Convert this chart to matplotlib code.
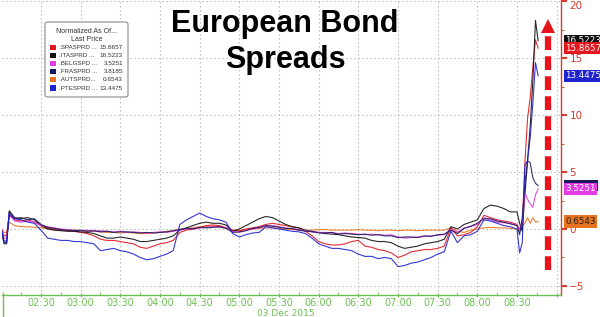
import matplotlib
matplotlib.use("Agg")
import matplotlib.pyplot as plt
from matplotlib.patches import FancyBboxPatch, Rectangle
from matplotlib.lines import Line2D
from matplotlib.transforms import blended_transform_factory, offset_copy

# ---------------- data ----------------
minutes = [0, 2, 4, 6,
           10, 15, 20, 25, 30, 35, 40, 45, 50, 55,
           60, 65, 70, 75, 80, 85, 90, 95, 100, 105,
           110, 115, 120, 125, 130, 135, 140, 145, 150, 155,
           160, 165, 170, 175, 180, 185, 190, 195, 200, 205,
           210, 215, 220, 225, 230, 235, 240, 245, 250, 255,
           260, 265, 270, 275, 280, 285, 290, 295, 300, 305,
           310, 315, 320, 325, 330, 335, 340, 345, 350, 355,
           360, 365, 370, 375, 380, 385, 390,
           392, 394, 396, 398, 400, 402, 404, 406]

pte = [0, -1.0, -1.1, 1.3,
       0.9, 0.8, 0.6, 0.5, -0.1, -0.8, -0.9, -1.0, -1.0, -1.1,
       -1.1, -1.2, -1.3, -1.9, -1.8, -1.7, -1.9, -2.0, -2.2, -2.5,
       -2.7, -2.6, -2.4, -2.2, -1.9, 0.4, 0.8, 1.1, 1.4, 1.1,
       0.9, 0.8, 0.6, -0.4, -0.7, -0.5, -0.35, -0.3, 0.2, 0.1,
       0.0, -0.1, -0.2, -0.25, -0.4, -0.8, -1.3, -1.5, -1.7, -1.7,
       -1.8, -1.9, -2.2, -2.4, -2.4, -2.6, -2.5, -2.6, -3.3, -3.2,
       -3.0, -2.9, -2.7, -2.5, -2.2, -2.0, -0.2, -1.2, -0.6, -0.5,
       -0.2, 0.8, 0.7, 0.5, 0.3, 0.2, 0.0,
       -2.1, -1.2, 5.6, 6.0, 8.0, 11.0, 14.6, 13.4475]

ita = [0, -1.2, -1.2, 1.6,
       1.0, 0.9, 1.0, 0.8, 0.3, 0.0, -0.1, -0.15, -0.2, -0.2,
       -0.25, -0.3, -0.4, -0.6, -0.8, -0.8, -0.7, -0.8, -0.9, -1.1,
       -1.1, -1.0, -0.9, -0.8, -0.6, -0.1, 0.1, 0.3, 0.5, 0.6,
       0.5, 0.5, 0.35, -0.2, 0.0, 0.3, 0.6, 0.9, 1.1, 1.0,
       0.7, 0.4, 0.2, 0.1, -0.1, -0.25, -0.3, -0.4, -0.45, -0.5,
       -0.6, -0.7, -0.75, -0.8, -1.0, -1.1, -1.1, -1.2, -1.5, -1.7,
       -1.6, -1.5, -1.3, -1.2, -1.1, -0.9, 0.2, 0.0, 0.4, 0.6,
       0.8, 1.8, 2.1, 2.0, 1.8, 1.5, 1.5,
       0.5, -0.2, 3.0, 6.0, 9.0, 13.0, 18.3, 16.5223]

spa = [0, -0.6, -0.5, 1.2,
       0.8, 0.7, 0.8, 0.6, 0.3, 0.1, -0.05, -0.1, -0.15, -0.2,
       -0.3, -0.4, -0.6, -0.9, -1.0, -1.0, -1.1, -1.2, -1.3, -1.6,
       -1.7, -1.5, -1.3, -1.2, -1.0, -0.3, -0.1, 0.0, 0.1, 0.3,
       0.35, 0.3, 0.1, -0.1, -0.15, 0.0, 0.1, 0.2, 0.4, 0.5,
       0.4, 0.3, 0.2, 0.1, -0.2, -0.6, -1.1, -1.3, -1.4, -1.4,
       -1.3, -1.1, -1.0, -1.5, -1.6, -1.8, -1.9, -2.1, -2.5, -2.3,
       -2.0, -1.9, -1.8, -1.8, -1.7, -1.5, 0.1, -0.6, -0.5, -0.3,
       0.2, 1.2, 1.0, 0.8, 0.7, 0.6, 0.4,
       0.0, 0.3, 5.8, 9.7, 11.5, 14.2, 16.6, 15.8657]

aut = [0, -0.3, -0.3, 0.6,
       0.3, 0.2, 0.2, 0.15, 0.1, 0.05, 0.0, -0.05, -0.1, -0.1,
       -0.15, -0.2, -0.2, -0.25, -0.3, -0.3, -0.35, -0.3, -0.35, -0.4,
       -0.4, -0.35, -0.3, -0.2, -0.15, 0.0, 0.05, 0.1, 0.2, 0.25,
       0.25, 0.2, 0.1, -0.1, -0.15, -0.05, 0.0, 0.05, 0.1, 0.1,
       0.05, 0.0, -0.05, -0.1, -0.1, -0.1, -0.05, -0.05, -0.1, -0.1,
       -0.1, -0.1, -0.05, -0.1, -0.1, -0.15, -0.1, -0.1, -0.15, -0.1,
       -0.1, -0.15, -0.1, -0.1, -0.1, -0.1, 0.1, -0.2, -0.3, -0.1,
       0.0, 0.1, 0.15, 0.1, 0.1, 0.05, 0.0,
       -0.2, 0.3, 0.5, 1.0, 0.5, 1.0, 0.6, 0.6543]

bel = [0, -0.8, -0.8, 1.3,
       0.7, 0.6, 0.7, 0.6, 0.3, 0.2, 0.1, 0.0, -0.05, -0.1,
       -0.15, -0.1, -0.2, -0.15, -0.2, -0.25, -0.2, -0.3, -0.25, -0.3,
       -0.35, -0.3, -0.25, -0.3, -0.2, -0.1, 0.0, 0.05, 0.1, 0.15,
       0.2, 0.15, 0.1, -0.2, -0.3, -0.1, 0.0, 0.1, 0.25, 0.3,
       0.2, 0.1, 0.0, -0.05, -0.15, -0.25, -0.3, -0.3, -0.35, -0.4,
       -0.35, -0.4, -0.45, -0.5, -0.45, -0.5, -0.55, -0.5, -0.7, -0.8,
       -0.75, -0.7, -0.65, -0.6, -0.55, -0.5, 0.0, -0.3, 0.1, 0.2,
       0.4, 1.0, 0.8, 0.6, 0.55, 0.5, 0.3,
       0.0, 0.5, 3.2, 2.6, 2.2, 1.9, 3.0, 3.5251]

fra = [0, -1.3, -1.3, 1.5,
       0.9, 1.0, 0.8, 0.9, 0.4, 0.15, 0.05, -0.05, -0.1, -0.15,
       -0.1, -0.2, -0.15, -0.25, -0.2, -0.3, -0.25, -0.25, -0.3, -0.35,
       -0.3, -0.35, -0.3, -0.25, -0.15, -0.05, 0.05, 0.0, 0.15, 0.1,
       0.15, 0.2, 0.05, -0.3, -0.25, -0.15, 0.05, 0.15, 0.3, 0.25,
       0.15, 0.05, 0.05, -0.1, -0.2, -0.2, -0.35, -0.35, -0.3, -0.45,
       -0.4, -0.45, -0.5, -0.45, -0.55, -0.5, -0.6, -0.6, -0.75, -0.7,
       -0.7, -0.75, -0.6, -0.65, -0.5, -0.45, -0.1, -0.4, 0.05, 0.25,
       0.5, 0.9, 0.9, 0.7, 0.6, 0.45, 0.3,
       -0.5, 1.0, 4.0, 6.0, 5.8, 4.5, 4.0, 3.8185]

names = [".SPASPRD ...", ".ITASPRD ...", ".BELGSPD ...", ".FRASPRD ...", ".AUTSPRD...", ".PTESPRD ..."]
last_prices = ["15.8657", "16.5223", "3.5251", "3.8185", "0.6543", "13.4475"]
tick_minutes = [30, 60, 90, 120, 150, 180, 210, 240, 270, 300, 330, 360, 390, 420]
tick_labels = ["02:30", "03:00", "03:30", "04:00", "04:30", "05:00", "05:30",
               "06:00", "06:30", "07:00", "07:30", "08:00", "08:30", ""]
y_ticks = [-5, 0, 5, 10, 15, 20]
arrow_x = 413.5
arrow_from, arrow_to = -3.6, 18.4

# ---------------- style ----------------
C_SPA = "#e3161d"
C_ITA = "#111111"
C_BEL = "#e43ce4"
C_FRA = "#1c1a5c"
C_AUT = "#e8731e"
C_PTE = "#1f22cf"
GREEN = "#6cbf52"
RED_AX = "#d93a2b"
GRID = "#b8b8b8"
LEG_FONT = "Liberation Sans"

fig = plt.figure(figsize=(6.0, 3.17), dpi=100)
ax = fig.add_axes([2 / 600, 1 - 295 / 317, 559 / 600, 295 / 317])
ax.set_xlim(0.5, 423.3)
ax.set_ylim(-5.79, 20.09)

ax.yaxis.tick_right()
ax.set_yticks(y_ticks)
ax.set_yticks([-2.5, 2.5, 7.5, 12.5, 17.5], minor=True)
ax.set_xticks(tick_minutes)
ax.set_xticklabels(tick_labels)
ax.set_xticks([m - 15 for m in tick_minutes], minor=True)

ax.grid(True, which="major", color=GRID, linestyle=(0, (1.2, 2.4)), linewidth=0.8)
ax.set_axisbelow(True)

for s in ["top", "left"]:
    ax.spines[s].set_visible(False)
ax.spines["bottom"].set_color(GREEN)
ax.spines["right"].set_color(RED_AX)
ax.spines["bottom"].set_linewidth(1.0)
ax.spines["right"].set_linewidth(1.0)

ax.tick_params(axis="x", which="major", colors=GREEN, labelsize=7, length=3,
               direction="inout", pad=0.5)
ax.tick_params(axis="x", which="minor", colors=GREEN, length=2, direction="in")
ax.tick_params(axis="y", which="major", colors=RED_AX, labelsize=7.5, length=4,
               width=1.5, direction="out", pad=2)
ax.tick_params(axis="y", which="minor", colors=RED_AX, length=2, direction="out")
ylabs = ax.get_yticklabels()
for lab in ylabs:
    lab.set_verticalalignment("center_baseline")
ylabs[-1].set_verticalalignment("top")

order = [(aut, C_AUT), (spa, C_SPA), (ita, C_ITA), (bel, C_BEL), (fra, C_FRA), (pte, C_PTE)]
for vals, col in order:
    ax.plot(minutes, vals, color=col, linewidth=0.8, alpha=0.9)

# red dashed arrow
ax.plot([arrow_x, arrow_x], [arrow_from, arrow_to - 1.2], color="#e8141c",
        linewidth=4.5, dashes=(2.2, 1.0), solid_capstyle="butt", zorder=5)
ax.plot([arrow_x], [arrow_to - 0.6], marker="^", markersize=10,
        color="#e8141c", markeredgewidth=0, zorder=6, clip_on=False)

# right-side tags: FRA tag is hidden behind the BEL tag (only a strip shows)
tag_trans = offset_copy(blended_transform_factory(ax.transAxes, ax.transData),
                        fig=fig, x=2.5, y=0, units="points")
fra_tag = Rectangle((1.0, fra[-1] - 0.48), 0.0595, 0.96, transform=tag_trans,
                    fc=C_FRA, ec="none", clip_on=False, zorder=9)
ax.add_patch(fra_tag)

tag_list = [(bel[-1], C_BEL, "white"),
            (aut[-1], C_AUT, "#222222"), (pte[-1], C_PTE, "white"),
            (ita[-1], C_ITA, "white"), (spa[-1], C_SPA, "white")]
for val, col, tcol in tag_list:
    ax.annotate(f"{val:.4f}", xy=(1.0, val), xycoords=("axes fraction", "data"),
                xytext=(3, 0), textcoords="offset points", ha="left", va="center",
                fontsize=6.3, color=tcol, family="DejaVu Sans",
                bbox=dict(boxstyle="square,pad=0.18", fc=col, ec="none"),
                annotation_clip=False, zorder=10)

# title
fig.text(0.475, 1 - 24 / 317, "European Bond", ha="center", va="center",
         fontsize=22, fontweight="bold", family="Liberation Sans")
fig.text(0.475, 1 - 60 / 317, "Spreads", ha="center", va="center",
         fontsize=22, fontweight="bold", family="Liberation Sans")

# date label and left marker line
fig.text(286 / 600, 1 - 313 / 317, "03 Dec 2015", ha="center", va="center",
         fontsize=6.5, color=GREEN)
fig.add_artist(Line2D([2.5 / 600, 2.5 / 600], [0, 1 - 293 / 317], color=GREEN,
                      linewidth=1.0, transform=fig.transFigure))

# legend box
W, H = 600.0, 317.0
def fx(px):
    return px / W
def fy(py):
    return 1 - py / H

box = FancyBboxPatch((fx(45), fy(97)), fx(128) - fx(45), fy(22) - fy(97),
                     boxstyle="round,pad=0,rounding_size=0.006",
                     transform=fig.transFigure, fc="white", ec="#8a8a8a",
                     linewidth=0.8, zorder=20)
fig.add_artist(box)
fig.text(fx(87), fy(31.5), "Normalized As Of...", ha="center", va="center",
         fontsize=5.0, color="#333333", family=LEG_FONT, zorder=21)
fig.text(fx(87), fy(39.5), "Last Price", ha="center", va="center",
         fontsize=5.0, color="#333333", family=LEG_FONT, zorder=21)
legend_cols = [C_SPA, C_ITA, C_BEL, C_FRA, C_AUT, C_PTE]
for i, (nm, lp, col) in enumerate(zip(names, last_prices, legend_cols)):
    yy = 47.5 + i * 8.1
    sq = FancyBboxPatch((fx(50), fy(yy + 2.6)), fx(5.5), 5.2 / H,
                        boxstyle="square,pad=0", transform=fig.transFigure,
                        fc=col, ec="none", zorder=21)
    fig.add_artist(sq)
    fig.text(fx(59), fy(yy), nm, ha="left", va="center", fontsize=4.5,
             color="#333333", family=LEG_FONT, zorder=21)
    fig.text(fx(123), fy(yy), lp, ha="right", va="center", fontsize=4.6,
             color="#333333", family=LEG_FONT, zorder=21)

fig.savefig("out.png", dpi=100)
